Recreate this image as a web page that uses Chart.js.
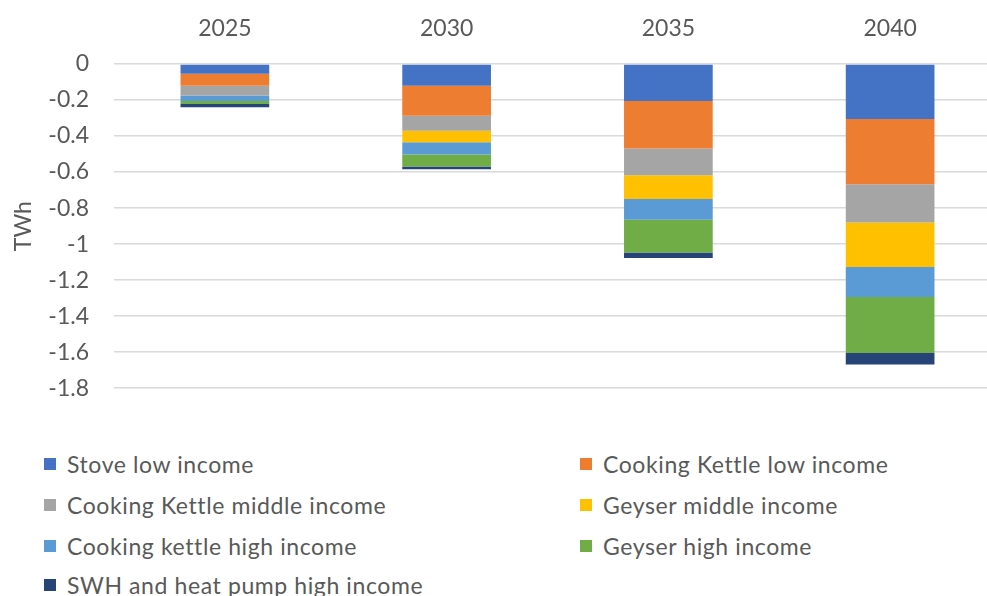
<!DOCTYPE html>
<html lang="en">

<head>
    <title>TWh savings</title>
    <meta charset="utf-8">
    <script src="https://cdn.jsdelivr.net/npm/chart.js"></script>
    <style>
        body { margin: 0; overflow: hidden; background: #fff; font-family: Lato, sans-serif; }
        #wrap { position: relative; width: 987px; height: 596px; overflow: hidden; }
        #chartBox { position: absolute; left: 0; top: 0; width: 1001px; height: 427px; }
        #legend { position: absolute; left: 0; top: 0; width: 987px; }
        .item { position: absolute; display: flex; align-items: center; font-size: 23px; color: #595959; white-space: nowrap; letter-spacing: 0.6px; }
        .item span.box { width: 12px; height: 12px; margin-right: 11px; }
    </style>
</head>

<body>
    <div id="wrap">
        <div id="chartBox"><canvas id="savingsChart"></canvas></div>
        <div id="legend"></div>
    </div>

    <script>
        // years and series (TWh, negative = reduction)
        const years = ['2025', '2030', '2035', '2040'];
        const stoveLow = [-0.054, -0.121, -0.205, -0.305];
        const kettleLow = [-0.067, -0.167, -0.264, -0.363];
        const kettleMiddle = [-0.054, -0.082, -0.149, -0.212];
        const geyserMiddle = [0, -0.065, -0.132, -0.247];
        const kettleHigh = [-0.030, -0.067, -0.115, -0.166];
        const geyserHigh = [-0.017, -0.067, -0.181, -0.311];
        const swhHigh = [-0.018, -0.015, -0.031, -0.065];
        const yTicks = [0, -0.2, -0.4, -0.6, -0.8, -1, -1.2, -1.4, -1.6, -1.8];

        const series = [
            { label: 'Stove low income', data: stoveLow, color: '#4472C4' },
            { label: 'Cooking Kettle low income', data: kettleLow, color: '#ED7D31' },
            { label: 'Cooking Kettle middle income', data: kettleMiddle, color: '#A5A5A5' },
            { label: 'Geyser middle income', data: geyserMiddle, color: '#FFC000' },
            { label: 'Cooking kettle high income', data: kettleHigh, color: '#5B9BD5' },
            { label: 'Geyser high income', data: geyserHigh, color: '#70AD47' },
            { label: 'SWH and heat pump high income', data: swhHigh, color: '#264478' }
        ];

        const ctx = document.getElementById('savingsChart').getContext('2d');
        const savingsChart = new Chart(ctx, {
            type: 'bar',
            data: {
                labels: years,
                datasets: series.map(s => ({
                    label: s.label,
                    data: s.data,
                    backgroundColor: s.color,
                    borderWidth: 0,
                    categoryPercentage: 1,
                    barPercentage: 0.4
                }))
            },
            options: {
                responsive: true,
                maintainAspectRatio: false,
                animation: false,
                layout: { padding: 0 },
                plugins: {
                    legend: { display: false },
                    tooltip: { enabled: false }
                },
                scales: {
                    x: {
                        position: 'top',
                        stacked: true,
                        grid: { display: false, drawTicks: false },
                        border: { display: false },
                        ticks: {
                            color: '#595959',
                            font: { family: 'Lato', size: 23 },
                            padding: 22
                        },
                        afterFit: (scale) => { scale.height = 64; }
                    },
                    y: {
                        stacked: true,
                        min: -1.8,
                        max: 0,
                        afterBuildTicks: (scale) => { scale.ticks = yTicks.map(v => ({ value: v })); },
                        grid: { color: '#D9D9D9', lineWidth: 1.5, drawTicks: false },
                        border: { display: false },
                        ticks: {
                            color: '#595959',
                            font: { family: 'Lato', size: 23 },
                            padding: 25,
                            callback: (v) => String(Number(v.toFixed(1)))
                        },
                        title: {
                            display: true,
                            text: 'TWh',
                            color: '#595959',
                            font: { family: 'Lato', size: 23 },
                            padding: { top: 10, bottom: 0 }
                        },
                        afterFit: (scale) => { scale.width = 114; }
                    }
                }
            }
        });

        // two-column legend under the plot
        const legend = document.getElementById('legend');
        savingsChart.data.datasets.forEach((ds, i) => {
            const col = i % 2;
            const row = Math.floor(i / 2);
            const item = document.createElement('div');
            item.className = 'item';
            item.style.left = (col === 0 ? 44 : 580) + 'px';
            item.style.top = [450, 491, 532, 571][row] + 'px';
            item.innerHTML = '<span class="box" style="background:' + ds.backgroundColor + '"></span>' + ds.label;
            legend.appendChild(item);
        });
    </script>
</body>

</html>
